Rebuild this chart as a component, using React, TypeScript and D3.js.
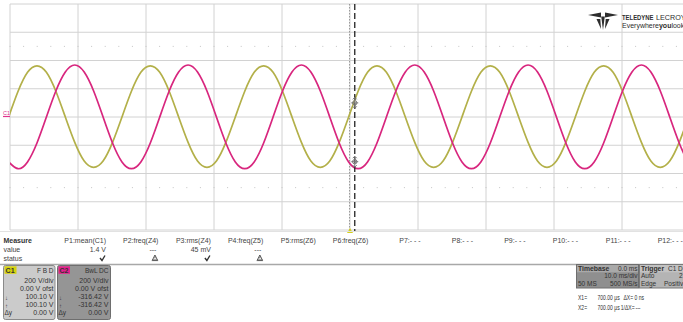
import React from "react";
import * as d3 from "d3";

// ---- data ----
const sampleStartMs = -50.2;
const sampleStepMs = 1.3889;
const c1Volts = [
  0, 182, 316, 362, 316, 182, 0, -180, -312, -356, -312, -180,
  0, 182, 316, 362, 316, 182, 0, -180, -312, -356, -312, -180,
  0, 182, 316, 362, 316, 182, 0, -180, -312, -356, -312, -180,
  0, 182, 316, 362, 316, 182, 0, -180, -312, -356, -312, -180,
  0, 182, 316, 362, 316, 182, 0, -180, -312, -356, -312, -180,
  0, 182, 316, 362, 316, 182, 0, -180, -312, -356, -312, -180,
  0, 182,
];
const c2Volts = [
  -318, -366, -318, -184, 0, 184, 318, 368, 318, 184, 0, -184,
  -318, -366, -318, -184, 0, 184, 318, 368, 318, 184, 0, -184,
  -318, -366, -318, -184, 0, 184, 318, 368, 318, 184, 0, -184,
  -318, -366, -318, -184, 0, 184, 318, 368, 318, 184, 0, -184,
  -318, -366, -318, -184, 0, 184, 318, 368, 318, 184, 0, -184,
  -318, -366, -318, -184, 0, 184, 318, 368, 318, 184, 0, -184,
  -318, -366,
];
const timeTicksMs = [-50, -40, -30, -20, -10, 0, 10, 20, 30, 40, 50];
const voltTicks = [-800, -600, -400, -200, 0, 200, 400, 600, 800];
const cursorMs = 0.7;
const cursorC1 = 100.1;
const cursorC2 = -316.42;

const measureHeaders = [
  "P1:mean(C1)", "P2:freq(Z4)", "P3:rms(Z4)", "P4:freq(Z5)", "P5:rms(Z6)", "P6:freq(Z6)",
  "P7:- - -", "P8:- - -", "P9:- - -", "P10:- - -", "P11:- - -", "P12:- - -",
];
const measureValues = ["1.4 V", "---", "45 mV", "---", "", "", "", "", "", "", "", ""];
const measureStatus = ["ok", "warn", "ok", "warn", "", "", "", "", "", "", "", ""];

const c1Panel = ["200 V/div", "0.00 V ofst", "100.10 V", "100.10 V", "0.00 V"];
const c2Panel = ["200 V/div", "0.00 V ofst", "-316.42 V", "-316.42 V", "0.00 V"];

const FONT = "'Liberation Sans', Arial, sans-serif";
const TXT = "#333";

function Check({ x, y }: { x: number; y: number }) {
  return (
    <path
      d={`M${x - 5},${y - 2.5} L${x - 3},${y} L${x},${y - 5}`}
      fill="none"
      stroke="#333"
      strokeWidth={1.4}
    />
  );
}
function Warn({ x, y }: { x: number; y: number }) {
  return (
    <g>
      <path d={`M${x - 2.5},${y} L${x},${y - 5} L${x + 2.5},${y} Z`} fill="none" stroke="#444" strokeWidth={0.9} />
      <line x1={x} y1={y - 3.4} x2={x} y2={y - 1.6} stroke="#444" strokeWidth={0.8} />
      <line x1={x - 3.2} y1={y + 0.6} x2={x + 3.2} y2={y + 0.6} stroke="#444" strokeWidth={0.8} />
    </g>
  );
}

function CursorMark({ x, y }: { x: number; y: number }) {
  return (
    <g stroke="#777" strokeWidth={1} fill="none">
      <circle cx={x} cy={y} r={2.2} />
      <line x1={x} y1={y - 5} x2={x} y2={y + 5} />
      <line x1={x - 3.5} y1={y} x2={x + 3.5} y2={y} />
      <path d={`M${x - 2},${y - 3.5} L${x},${y - 5.5} L${x + 2},${y - 3.5}`} />
      <path d={`M${x - 2},${y + 3.5} L${x},${y + 5.5} L${x + 2},${y + 3.5}`} />
    </g>
  );
}

function CText({
  x,
  y,
  sx,
  size,
  bold,
  children,
}: {
  x: number;
  y: number;
  sx: number;
  size: number;
  bold?: boolean;
  children: React.ReactNode;
}) {
  return (
    <text
      transform={`translate(${x},${y}) scale(${sx},1)`}
      fontSize={size}
      fontWeight={bold ? "bold" : "normal"}
      fill="#2f2f2f"
    >
      {children}
    </text>
  );
}

export default function App() {
  const x = d3.scaleLinear().domain([-50, 50]).range([10, 690]);
  const y = d3.scaleLinear().domain([-800, 800]).range([230, 4]);

  const times = c1Volts.map((_, i) => sampleStartMs + i * sampleStepMs);
  const line = d3
    .line<number>()
    .x((_, i) => x(times[i]))
    .y((v) => y(v))
    .curve(d3.curveNatural);

  const minorTimes = d3.range(-50, 50.01, 2);
  const colRight = (i: number) => 106 + i * 52.45;

  const fs = 7;
  const rs = 6.3;
  const rsx = 0.8;

  return (
    <svg
      width={683}
      height={322}
      style={{ position: "absolute", left: 0, top: 0, background: "#fff" }}
      fontFamily={FONT}
    >
      <defs>
        <clipPath id="plotClip">
          <rect x={10} y={4} width={680} height={226} />
        </clipPath>
      </defs>
      <rect x={0} y={0} width={683} height={322} fill="#fff" />

      {/* grid */}
      {timeTicksMs.map((t) => (
        <line key={"v" + t} x1={x(t)} x2={x(t)} y1={4} y2={230} stroke="#d2d2d2" strokeWidth={1} />
      ))}
      {voltTicks.map((v) => (
        <line key={"h" + v} x1={10} x2={690} y1={y(v)} y2={y(v)} stroke="#d2d2d2" strokeWidth={1} />
      ))}
      {[500, -500].map((v) =>
        minorTimes.map((t) => (
          <rect key={"m" + v + "_" + t} x={x(t) - 0.5} y={y(v) - 0.5} width={1} height={1} fill="#c4c4c4" />
        ))
      )}
      <line x1={x(0) - 0.5} x2={x(0) - 0.5} y1={4} y2={230} stroke="#9a9a9a" strokeWidth={1} strokeDasharray="1.5 1.5" />

      {/* traces */}
      <g clipPath="url(#plotClip)">
        <path d={line(c1Volts) || ""} fill="none" stroke="#b3b049" strokeWidth={1.7} />
        <path d={line(c2Volts) || ""} fill="none" stroke="#d8267e" strokeWidth={1.7} />
      </g>

      {/* cursor */}
      <line
        x1={x(cursorMs)}
        x2={x(cursorMs)}
        y1={4}
        y2={231}
        stroke="#222"
        strokeWidth={1.3}
        strokeDasharray="6 3"
      />
      <CursorMark x={x(cursorMs)} y={y(cursorC1)} />
      <CursorMark x={x(cursorMs)} y={y(cursorC2)} />

      {/* trigger marker */}
      <path d={`M${x(0) - 3},${233} L${x(0)},${228} L${x(0) + 3},${233} Z`} fill="#d4cf1a" />

      {/* channel marker */}
      <text x={3} y={115} fontSize={5.5} fill="#e0358c">C1</text>
      <line x1={3} x2={10} y1={116.5} y2={116.5} stroke="#e0358c" strokeWidth={1.2} />

      {/* logo */}
      <g fill="#2d2d2d">
        <path d="M588,15 L601,12.6 L601,17.6 Z" />
        <path d="M618,15 L605,12.6 L605,17.6 Z" />
        <path d="M601.2,16.5 L604.8,16.5 L603,30 Z" />
        <path d="M596.5,19 L600.3,19 L601,29 Z" />
        <path d="M609.5,19 L605.7,19 L605,29 Z" />
      </g>
      <CText x={622} y={19.5} sx={0.82} size={7.2} bold>TELEDYNE</CText>
      <text x={656} y={19.5} fontSize={7.2} fill="#2d2d2d">LECROY</text>
      <text x={622} y={28} fontSize={7} fill="#2d2d2d">
        Everywhere<tspan fontWeight="bold">you</tspan>look
      </text>

      {/* measurement table */}
      <line x1={0} x2={683} y1={231.5} y2={231.5} stroke="#e2e2e2" strokeWidth={1} />
      <text x={3.5} y={243} fontSize={7} fontWeight="bold" fill="#333">Measure</text>
      <text x={3.5} y={252} fontSize={fs} fill="#444">value</text>
      <text x={3.5} y={261} fontSize={fs} fill="#444">status</text>
      {measureHeaders.map((h, i) => (
        <text key={h} x={colRight(i)} y={243} fontSize={fs} fill="#444" textAnchor="end">{h}</text>
      ))}
      {measureValues.map((v, i) =>
        v ? (
          <text key={"val" + i} x={colRight(i) - (v === "---" ? 2 : 0)} y={252} fontSize={fs} fill="#444" textAnchor="end">{v}</text>
        ) : null
      )}
      {measureStatus.map((s, i) =>
        s === "ok" ? (
          <Check key={"st" + i} x={colRight(i) - 1} y={260.5} />
        ) : s === "warn" ? (
          <Warn key={"st" + i} x={colRight(i) - 3.5} y={260} />
        ) : null
      )}
      <line x1={0} x2={683} y1={264.5} y2={264.5} stroke="#a8a8a8" strokeWidth={1.3} />

      {/* C1 panel */}
      <rect x={3.5} y={265.5} width={51.5} height={54} rx={2} fill="#cbcbcb" stroke="#8a8a8a" />
      <rect x={4.5} y={266.3} width={12} height={7.5} fill="#d6d20c" />
      <text x={5.6} y={272.6} fontSize={7} fontWeight="bold" fill="#333">C1</text>
      <text x={53.5} y={272.5} fontSize={6.5} fill={TXT} textAnchor="end">F B D</text>
      {c1Panel.map((s, i) => (
        <text key={"c1" + i} x={53.5} y={283.3 + i * 7.9} fontSize={fs} fill={TXT} textAnchor="end">{s}</text>
      ))}
      <text x={5} y={299.5} fontSize={6} fill={TXT}>↓</text>
      <text x={5} y={307.5} fontSize={6} fill={TXT}>↑</text>
      <text x={4.5} y={315.3} fontSize={6.5} fill={TXT}>Δy</text>

      {/* C2 panel */}
      <rect x={57.5} y={265.5} width={53} height={54} rx={2} fill="#959595" stroke="#6e6e6e" />
      <rect x={58.5} y={266.3} width={11.5} height={7.5} fill="#e5218c" />
      <text x={59.5} y={272.6} fontSize={7} fontWeight="bold" fill="#333">C2</text>
      <text x={108.5} y={272.5} fontSize={6.5} fill={TXT} textAnchor="end">BwL DC</text>
      {c2Panel.map((s, i) => (
        <text key={"c2" + i} x={108.5} y={283.3 + i * 7.9} fontSize={fs} fill={TXT} textAnchor="end">{s}</text>
      ))}
      <text x={59} y={299.5} fontSize={6} fill={TXT}>↓</text>
      <text x={59} y={307.5} fontSize={6} fill={TXT}>↑</text>
      <text x={58.5} y={315.3} fontSize={6.5} fill={TXT}>Δy</text>

      {/* Timebase panel */}
      <rect x={576.5} y={264.5} width={62} height={23.5} fill="#8f8f8f" stroke="#6e6e6e" />
      <rect x={577} y={265} width={61} height={7.3} fill="#a9a9a9" />
      <text x={578} y={271} fontSize={6.8} fontWeight="bold" fill="#333">Timebase</text>
      <text x={637.5} y={271} fontSize={6.5} fill="#333" textAnchor="end">0.0 ms</text>
      <text x={637.5} y={278} fontSize={6.5} fill="#333" textAnchor="end">10.0 ms/div</text>
      <text x={578} y={285.5} fontSize={6.5} fill="#333">50 MS</text>
      <text x={637.5} y={285.5} fontSize={6.5} fill="#333" textAnchor="end">500 MS/s</text>

      {/* Trigger panel */}
      <rect x={639.5} y={264.5} width={50} height={23.5} fill="#b4b4b4" stroke="#7a7a7a" />
      <rect x={640} y={265} width={49} height={7.3} fill="#c2c2c2" />
      <text x={641} y={271} fontSize={6.8} fontWeight="bold" fill="#333">Trigger</text>
      <text x={668} y={271} fontSize={6.5} fill="#333">C1 D</text>
      <text x={641} y={278} fontSize={6.5} fill="#333">Auto</text>
      <text x={679} y={278} fontSize={6.5} fill="#333">2</text>
      <text x={641} y={285.5} fontSize={6.5} fill="#333">Edge</text>
      <text x={664} y={285.5} fontSize={6.5} fill="#333">Positive</text>

      {/* cursor readouts */}
      <CText x={578} y={300} sx={rsx} size={rs}>X1=</CText>
      <CText x={597.5} y={300} sx={rsx} size={rs}>700.00 µs</CText>
      <CText x={623.5} y={300} sx={rsx} size={rs}>ΔX=</CText>
      <CText x={634.5} y={300} sx={rsx} size={rs}>0 ns</CText>
      <CText x={578} y={310} sx={rsx} size={rs}>X2=</CText>
      <CText x={597.5} y={310} sx={rsx} size={rs}>700.00 µs</CText>
      <CText x={620.8} y={310} sx={rsx} size={rs}>1/ΔX=</CText>
      <CText x={635.5} y={310} sx={rsx} size={rs}>---</CText>
    </svg>
  );
}
